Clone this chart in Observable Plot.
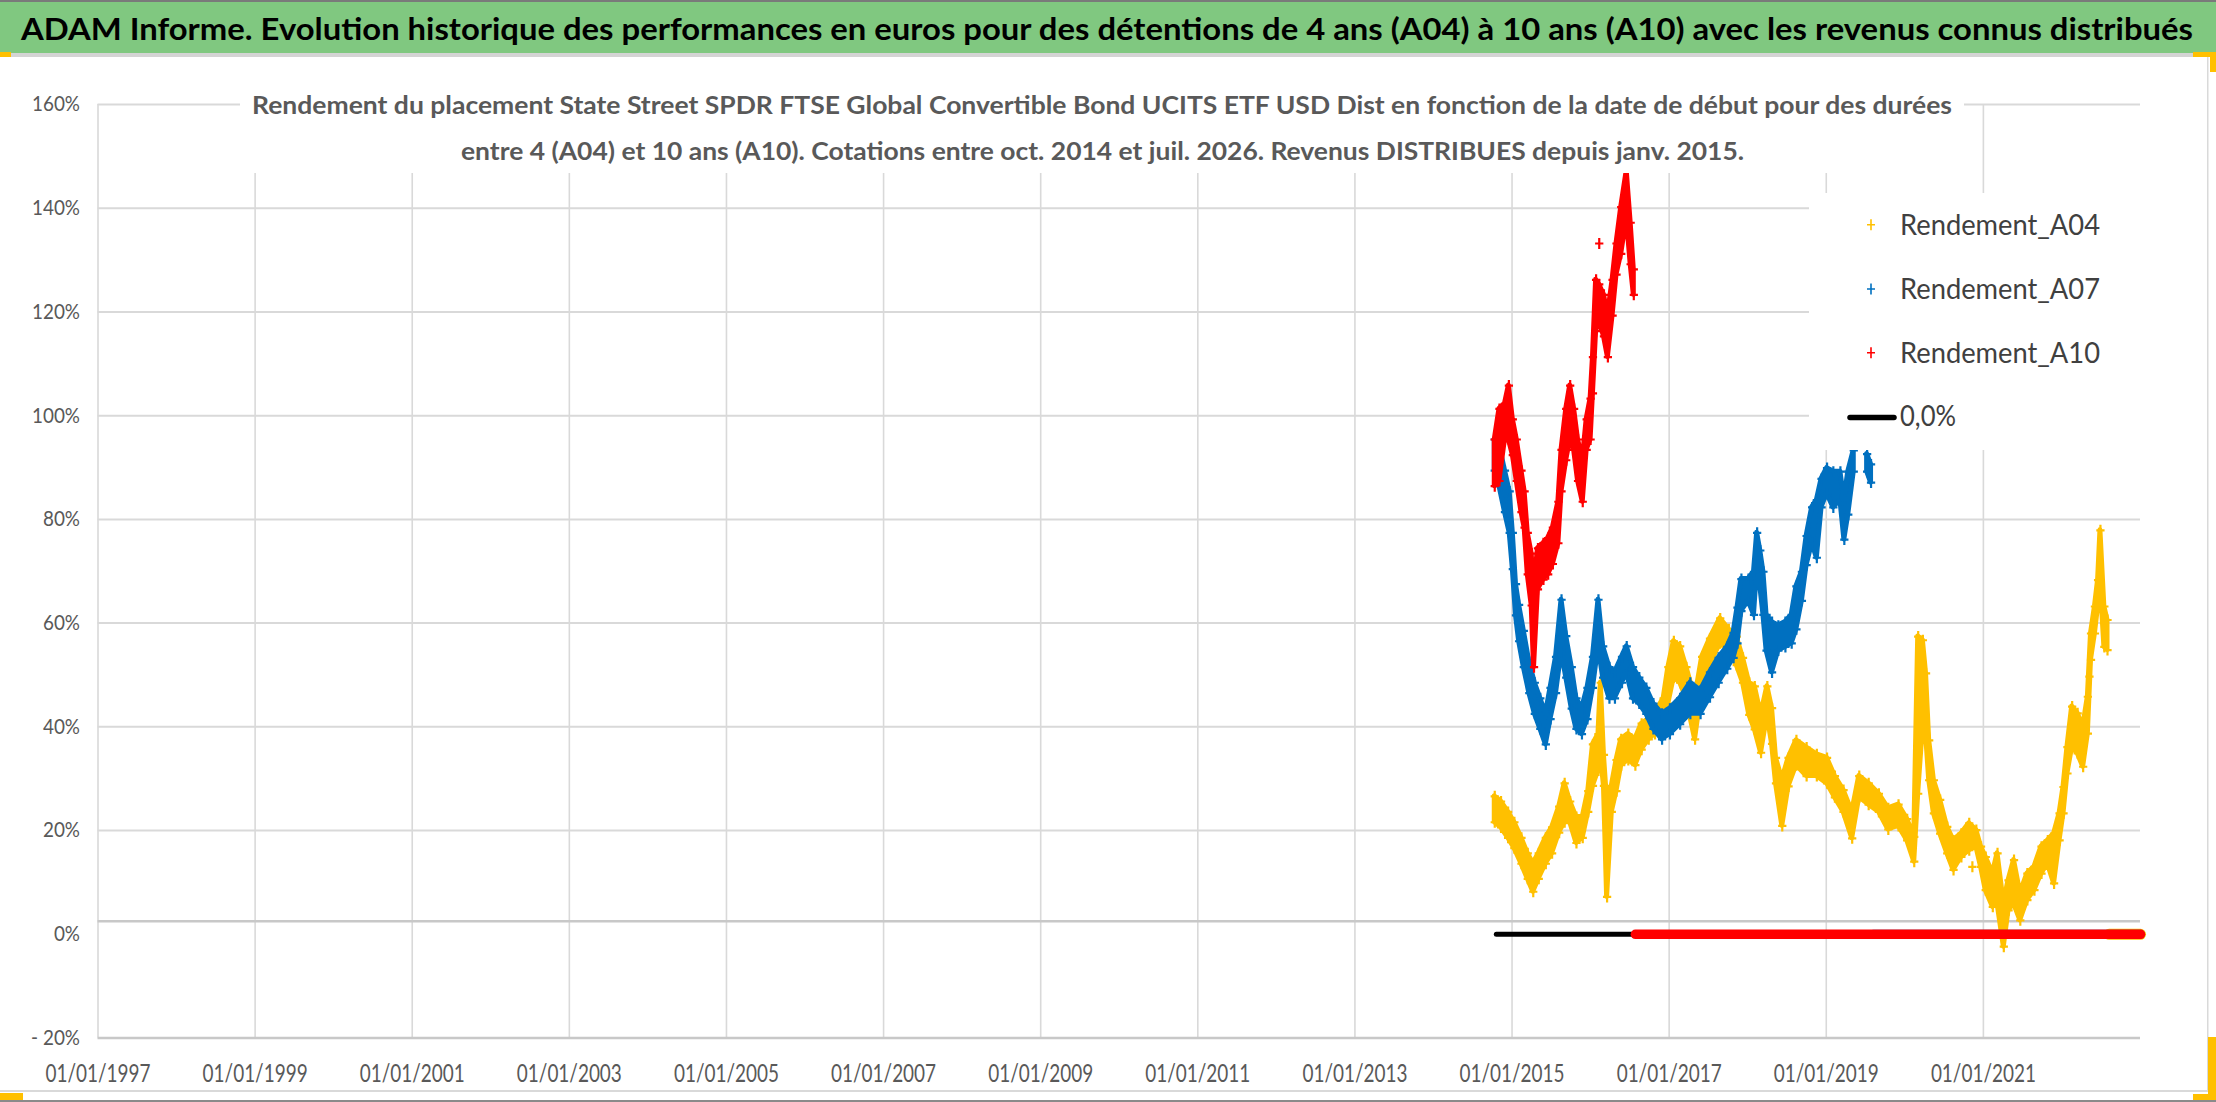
<!DOCTYPE html>
<html>
<head>
<meta charset="utf-8">
<script src="https://cdn.jsdelivr.net/npm/d3@7"></script>
<script src="https://cdn.jsdelivr.net/npm/@observablehq/plot@0.6"></script>
<style>
  html, body { margin: 0; padding: 0; background: #fff; }
  #page { position: relative; width: 2216px; height: 1102px; overflow: hidden; background: #fff; }
  #header { position: absolute; left: 0; top: 0; width: 2216px; height: 53px; background: #80c880; border-top: 2px solid #7a7a7a; box-sizing: border-box; }
  #headerShadow { position: absolute; left: 0; top: 53px; width: 2216px; height: 4px; background: #d4d4d4; }
</style>
</head>
<body>
<div id="page">
  <div id="header"></div>
  <div id="headerShadow"></div>
</div>
<script>
// ---------------- texts ----------------
const headerTitle = "ADAM Informe. Evolution historique des performances en euros pour des détentions de 4 ans (A04) à 10 ans (A10) avec les revenus connus distribués";
const subtitleLine1 = "Rendement du placement State Street SPDR FTSE Global Convertible Bond UCITS ETF USD Dist en fonction de la date de début pour des durées";
const subtitleLine2 = "entre 4 (A04) et 10 ans (A10). Cotations entre oct. 2014 et juil. 2026. Revenus DISTRIBUES depuis janv. 2015.";
const seriesNames = ["Rendement_A04", "Rendement_A07", "Rendement_A10", "0,0%"];
const seriesColors = ["#FFC000", "#0070C0", "#FF0000", "#000000"];

// ---------------- axes ----------------
const xTicks = [1997, 1999, 2001, 2003, 2005, 2007, 2009, 2011, 2013, 2015, 2017, 2019, 2021];
const xDomain = [1997, 2023];
const yTicks = [-20, 0, 20, 40, 60, 80, 100, 120, 140, 160];
const yGrid = [20, 40, 60, 80, 100, 120, 140, 160];
const yAxisLines = [-20, 2.5];
const yDomain = [-20, 160];

// ---------------- data: [start year, low %, high %] ----------------
const a04 = [
  [2014.78, 21.6, 26.6], [2014.86, 20.6, 25.6], [2014.95, 18.6, 23.6], [2015.03, 16.6, 21.6],
  [2015.12, 13.6, 18.6], [2015.20, 10.7, 15.6], [2015.27, 8.2, 13.6], [2015.34, 10.7, 15.6],
  [2015.43, 13.6, 18.6], [2015.51, 15.6, 20.6], [2015.60, 19.6, 24.6], [2015.67, 21.6, 29.1],
  [2015.74, 21.6, 25.6], [2015.82, 17.6, 22.6], [2015.90, 18.6, 22.6], [2015.97, 23.6, 27.6],
  [2016.03, 28.6, 36.6], [2016.10, 31.6, 38.6], [2016.13, 34.6, 48.5], [2016.17, 28.6, 34.6],
  [2016.21, 7.2, 25.6], [2016.27, 23.6, 28.6], [2016.33, 27.6, 33.6], [2016.39, 32.6, 37.6],
  [2016.48, 33.6, 38.6], [2016.57, 32.6, 37.6], [2016.65, 35.6, 40.6], [2016.74, 37.6, 41.5],
  [2016.82, 38.6, 42.5], [2016.93, 40.5, 45.5], [2016.99, 44.5, 51.5], [2017.06, 49.5, 56.5],
  [2017.14, 48.5, 55.5], [2017.22, 45.5, 51.5], [2017.33, 37.6, 45.5], [2017.42, 47.5, 53.5],
  [2017.52, 52.0, 57.0], [2017.65, 56.1, 60.9], [2017.76, 54.7, 58.8], [2017.86, 51.9, 57.4],
  [2017.94, 48.5, 53.3], [2018.02, 42.3, 48.5], [2018.09, 39.5, 47.8], [2018.17, 35.0, 42.3],
  [2018.25, 42.3, 47.8], [2018.31, 36.7, 43.6], [2018.36, 29.1, 34.0], [2018.44, 20.9, 29.8],
  [2018.52, 28.5, 34.0], [2018.62, 32.6, 37.4], [2018.75, 30.5, 36.0], [2018.88, 30.5, 34.7],
  [2019.01, 29.1, 34.0], [2019.11, 26.4, 30.5], [2019.22, 23.6, 27.8], [2019.33, 18.5, 23.6],
  [2019.42, 26.4, 30.5], [2019.54, 25.0, 29.1], [2019.67, 23.6, 27.1], [2019.79, 20.2, 24.3],
  [2019.92, 20.9, 25.0], [2020.03, 18.1, 22.2], [2020.12, 14.0, 18.8], [2020.17, 27.1, 57.4],
  [2020.23, 40.0, 56.7], [2020.27, 38.7, 50.3], [2020.31, 29.7, 37.4], [2020.37, 23.3, 29.7],
  [2020.45, 19.4, 25.9], [2020.54, 15.6, 20.7], [2020.62, 12.4, 18.1], [2020.72, 14.9, 19.4],
  [2020.82, 16.2, 21.4], [2020.91, 16.9, 20.1], [2020.97, 13.0, 16.9], [2021.03, 8.5, 14.9],
  [2021.12, 5.3, 11.7], [2021.18, 5.9, 15.6], [2021.26, -2.4, 5.9], [2021.32, 4.6, 10.4],
  [2021.39, 5.9, 14.3], [2021.47, 2.7, 7.9], [2021.56, 6.6, 11.7], [2021.65, 8.5, 13.0],
  [2021.74, 11.7, 16.9], [2021.82, 13.6, 18.1], [2021.90, 9.8, 19.4], [2021.97, 18.1, 23.3],
  [2022.02, 23.3, 28.4], [2022.07, 31.0, 36.1], [2022.13, 36.1, 43.9], [2022.20, 34.9, 42.6],
  [2022.27, 32.3, 40.0], [2022.33, 38.7, 45.8], [2022.37, 52.9, 58.0], [2022.42, 58.0, 63.2],
  [2022.46, 63.2, 68.3], [2022.49, 68.3, 77.9], [2022.54, 55.4, 63.2], [2022.58, 54.8, 60.6]
];
const a04Single = [[2020.86, 13.0], [2022.35, 49.7]];

const a07 = [
  [2014.78, 89.4, 95.4], [2014.84, 86.4, 94.4], [2014.91, 81.4, 89.4], [2014.97, 77.4, 85.4],
  [2015.01, 70.4, 77.4], [2015.05, 61.5, 67.5], [2015.09, 56.5, 63.5], [2015.15, 51.5, 58.5],
  [2015.22, 46.5, 52.5], [2015.29, 42.5, 48.5], [2015.36, 39.6, 45.5], [2015.43, 36.6, 42.5],
  [2015.49, 41.5, 47.5], [2015.56, 46.5, 53.5], [2015.63, 54.5, 64.5], [2015.69, 49.5, 57.5],
  [2015.76, 43.5, 51.5], [2015.82, 39.6, 45.5], [2015.89, 38.6, 43.5], [2015.96, 41.5, 47.5],
  [2016.03, 47.5, 53.5], [2016.10, 55.5, 64.5], [2016.16, 49.5, 55.5], [2016.24, 45.5, 51.5],
  [2016.31, 45.5, 50.5], [2016.40, 48.5, 53.5], [2016.46, 50.5, 55.5], [2016.54, 45.5, 51.5],
  [2016.62, 44.5, 49.5], [2016.71, 42.5, 47.5], [2016.80, 39.6, 44.5], [2016.91, 37.6, 42.5],
  [2017.01, 38.6, 43.5], [2017.14, 40.5, 45.5], [2017.27, 42.5, 48.5], [2017.40, 42.5, 47.0],
  [2017.52, 45.7, 50.5], [2017.63, 48.5, 53.3], [2017.74, 51.2, 55.4], [2017.82, 53.3, 58.1],
  [2017.87, 56.1, 63.0], [2017.92, 62.3, 68.5], [2018.01, 64.3, 68.5], [2018.08, 61.6, 69.9],
  [2018.12, 70.5, 77.4], [2018.16, 67.1, 74.0], [2018.20, 61.6, 69.9], [2018.24, 54.7, 61.6],
  [2018.31, 50.5, 60.2], [2018.39, 54.7, 59.5], [2018.48, 55.4, 60.2], [2018.56, 56.1, 61.6],
  [2018.62, 58.8, 67.1], [2018.69, 64.3, 69.9], [2018.75, 71.2, 76.8], [2018.82, 75.4, 82.3],
  [2018.88, 72.6, 83.7], [2018.94, 82.3, 87.8], [2019.01, 85.0, 89.9], [2019.09, 82.3, 89.2],
  [2019.18, 83.7, 89.2], [2019.23, 76.1, 83.7], [2019.28, 80.9, 89.2], [2019.35, 89.2, 93.3],
  [2019.44, NaN, NaN], [2019.52, 89.2, 92.6], [2019.57, 87.1, 90.6]
];

const a10 = [
  [2014.78, 86.4, 95.4], [2014.84, 87.4, 101.3], [2014.91, 95.4, 102.3], [2014.96, 95.4, 105.8],
  [2015.01, 92.4, 99.3], [2015.06, 87.4, 95.4], [2015.12, 81.4, 89.4], [2015.16, 78.4, 85.4],
  [2015.20, 69.4, 77.4], [2015.25, 63.4, 73.4], [2015.28, 51.5, 66.5], [2015.33, 66.5, 74.4],
  [2015.40, 68.4, 75.4], [2015.46, 69.4, 76.4], [2015.52, 71.4, 78.4], [2015.59, 75.4, 83.4],
  [2015.63, 85.4, 93.4], [2015.69, 91.4, 101.3], [2015.74, 95.4, 105.8], [2015.79, 93.4, 101.3],
  [2015.84, 87.4, 95.4], [2015.90, 83.4, 91.4], [2015.95, 93.4, 99.3], [2016.00, 95.4, 103.3],
  [2016.03, 104.3, 111.3], [2016.07, 116.3, 126.2], [2016.11, 118.3, 125.3], [2016.17, 115.3, 123.3],
  [2016.22, 111.3, 119.3], [2016.28, 119.3, 126.2], [2016.33, 127.2, 133.2], [2016.39, 131.2, 140.2],
  [2016.46, 138.2, 147.2], [2016.51, 129.2, 137.2], [2016.55, 123.3, 128.2]
];
const a10Single = [[2016.11, 133.2]];

// zero-valued stretches: [start year, value]
const zeroLine = [[2014.80, 0], [2023.0, 0]];
const a04Zero = [[2022.60, 0], [2023.0, 0]];
const a07Zero = [[2019.60, 0], [2023.0, 0]];
const a10Zero = [[2016.57, 0], [2023.0, 0]];

// ---------------- chart ----------------
const fmtX = y => "01/01/" + y;
const fmtY = v => v < 0 ? "- " + (-v) + "%" : v + "%";

// Excel "+" marker: a little taller than wide
const excelPlus = {
  draw(ctx, size) {
    const r = Math.sqrt(size / Math.PI);
    ctx.moveTo(-r * 0.75, 0); ctx.lineTo(r * 0.75, 0);
    ctx.moveTo(0, -r); ctx.lineTo(0, r);
  }
};
const mk = {symbol: excelPlus, r: 5.5, fill: "none", strokeWidth: 2.2};

function band(data, color) {
  return [
    Plot.areaY(data, {x: d => d[0], y1: d => d[1], y2: d => d[2], fill: color, stroke: color, strokeWidth: 5, strokeLinejoin: "round"}),
    Plot.dot(data, {x: d => d[0], y: d => d[1], stroke: color, ...mk}),
    Plot.dot(data, {x: d => d[0], y: d => d[2], stroke: color, ...mk})
  ];
}
function singles(data, color) {
  return Plot.dot(data, {x: d => d[0], y: d => d[1], stroke: color, ...mk});
}
function zero(data, color, w) {
  return Plot.line(data, {x: d => d[0], y: d => d[1], stroke: color, strokeWidth: w, strokeLinecap: "round"});
}

const chart = Plot.plot({
  width: 2216,
  height: 1035,
  marginLeft: 97.5,
  marginRight: 76,
  marginTop: 47,
  marginBottom: 54.5,
  style: {fontFamily: "Lato, 'Open Sans', sans-serif", background: "transparent", overflow: "visible"},
  x: {domain: xDomain, label: null},
  y: {domain: yDomain, label: null},
  marks: [
    Plot.ruleX(xTicks, {stroke: "#d9d9d9", strokeWidth: 1.6}),
    Plot.ruleY(yGrid, {stroke: "#d9d9d9", strokeWidth: 2}),
    Plot.ruleY(yAxisLines, {stroke: "#c8c8c8", strokeWidth: 2.6}),
    Plot.axisX({ticks: xTicks, tickFormat: fmtX, tickSize: 0, tickPadding: 26, fontSize: 25.5, fill: "#595959"}),
    Plot.axisY({ticks: yTicks, tickFormat: fmtY, tickSize: 0, tickPadding: 18, fontSize: 21.5, fill: "#595959"}),
    zero(zeroLine, seriesColors[3], 5),
    ...band(a04, seriesColors[0]),
    singles(a04Single, seriesColors[0]),
    zero(a04Zero, seriesColors[0], 11),
    ...band(a07, seriesColors[1]),
    zero(a07Zero, seriesColors[1], 9),
    ...band(a10, seriesColors[2]),
    singles(a10Single, seriesColors[2]),
    zero(a10Zero, seriesColors[2], 9.5)
  ]
});
chart.style.position = "absolute";
chart.style.left = "0px";
chart.style.top = "57px";
const page = document.getElementById("page");
page.appendChild(chart);

// condense tick labels (Calibri-like narrow look)
const texts = Array.from(chart.querySelectorAll("text"));
const xt = texts.filter(t => t.textContent.startsWith("01/01/"));
xt.forEach(t => { t.setAttribute("textLength", 105); t.setAttribute("lengthAdjust", "spacingAndGlyphs"); });
const yt = texts.filter(t => t.textContent.endsWith("%"));
const ref = yt.find(t => t.textContent === "140%");
const k = ref ? 48 / ref.getComputedTextLength() : 0.87;
yt.forEach(t => { const w = t.getComputedTextLength(); t.setAttribute("textLength", w * k); t.setAttribute("lengthAdjust", "spacingAndGlyphs"); });

// ---------------- overlay: titles and legend ----------------
const ov = d3.select(page).append("svg")
  .attr("width", 2216).attr("height", 1102)
  .style("position", "absolute").style("left", "0px").style("top", "0px")
  .style("font-family", "Lato, 'Open Sans', sans-serif");

function fitted(sel, x, y, len, size, weight, fill, txt) {
  return sel.append("text").attr("x", x).attr("y", y)
    .attr("textLength", len).attr("lengthAdjust", "spacingAndGlyphs")
    .attr("font-size", size).attr("font-weight", weight).attr("fill", fill).text(txt);
}

fitted(ov, 21, 39.5, 2172, 30, "bold", "#000", headerTitle);

ov.append("rect").attr("x", 240).attr("y", 84).attr("width", 1724).attr("height", 89).attr("fill", "#fff");
fitted(ov, 252, 113.5, 1700, 24, "bold", "#595959", subtitleLine1);
fitted(ov, 461, 159.5, 1283, 24, "bold", "#595959", subtitleLine2);

// legend
ov.append("rect").attr("x", 1809).attr("y", 193).attr("width", 345).attr("height", 257).attr("fill", "#fff");
const legendRows = [235, 299.3, 363, 425.7];
seriesNames.forEach((name, i) => {
  const base = legendRows[i];
  const cy = base - 10.3;
  if (i < 3) {
    ov.append("path").attr("d", `M1867,${cy}H1875M1871,${cy - 5.5}V${cy + 5.5}`)
      .attr("stroke", seriesColors[i]).attr("stroke-width", 1.6).attr("fill", "none");
    fitted(ov, 1900, base, 200, 29.5, "normal", "#404040", name);
  } else {
    ov.append("path").attr("d", `M1850,${cy + 2}H1894`)
      .attr("stroke", "#000").attr("stroke-width", 5.5).attr("stroke-linecap", "round").attr("fill", "none");
    fitted(ov, 1900, base, 56, 29.5, "normal", "#404040", name);
  }
});

// chart-area borders and Excel selection handles
ov.append("rect").attr("x", 0).attr("y", 1090).attr("width", 2208).attr("height", 2).attr("fill", "#d9d9d9");
ov.append("rect").attr("x", 0).attr("y", 1100).attr("width", 2216).attr("height", 2).attr("fill", "#8a8a8a");
ov.append("rect").attr("x", 2207).attr("y", 57).attr("width", 1.5).attr("height", 1035).attr("fill", "#d9d9d9");
[[0, 52, 11, 5], [0, 1093, 23, 7], [2193, 52, 23, 5], [2210, 52, 6, 20], [2208, 1037, 8, 63], [2193, 1094, 23, 6]]
  .forEach(([x, y, w, h]) => ov.append("rect").attr("x", x).attr("y", y).attr("width", w).attr("height", h).attr("fill", "#FFC000"));
</script>
</body>
</html>
